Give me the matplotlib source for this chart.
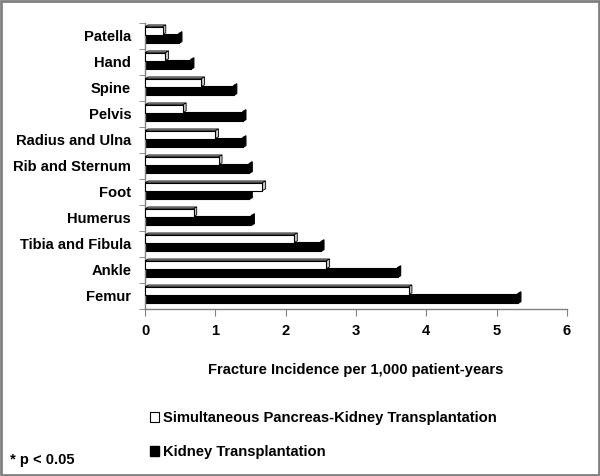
import matplotlib.pyplot as plt
from matplotlib.patches import Polygon, Rectangle, Patch

plt.rcParams['font.family'] = ['Liberation Sans', 'DejaVu Sans']
plt.rcParams['font.weight'] = 'bold'

# Data (bottom to top)
sites = ["Femur", "Ankle", "Tibia and Fibula", "Humerus", "Foot",
         "Rib and Sternum", "Radius and Ulna", "Pelvis", "Spine", "Hand", "Patella"]
spk = [3.75, 2.58, 2.12, 0.69, 1.67, 1.05, 1.00, 0.54, 0.80, 0.29, 0.25]
kidney = [5.30, 3.59, 2.50, 1.51, 1.48, 1.48, 1.39, 1.39, 1.26, 0.65, 0.48]

fs = 10.6
fig = plt.figure(figsize=(6, 4.76), dpi=100)
ax = fig.add_axes([0.2417, 0.351, 0.7033, 0.601])

pos = list(range(len(sites)))
dx, dy = 0.045, 0.07  # fake 3D depth

# kidney bars (black)
y_k = [p - 0.1 for p in pos]
ax.barh(y_k, kidney, height=0.38, color="black", edgecolor="black", lw=0.8, zorder=2)
for y, v in zip(y_k, kidney):
    ax.add_patch(Polygon([(v, y - 0.19), (v + dx, y - 0.19 + dy), (v + dx, y + 0.19 + dy), (v, y + 0.19)],
                         closed=True, fc="black", ec="black", lw=0.8, zorder=2))

# SPK bars (white with grey depth)
y_s = [p + 0.2 for p in pos]
h = 0.3
for y, v in zip(y_s, spk):
    top = y + h / 2
    ax.add_patch(Polygon([(0, top), (dx, top + dy), (v + dx, top + dy), (v, top)],
                         closed=True, fc="#a8a8a8", ec="black", lw=0.6, zorder=3))
    ax.add_patch(Polygon([(v, top), (v + dx, top + dy), (v + dx, y - h / 2 + dy), (v, y - h / 2)],
                         closed=True, fc="#c8c8c8", ec="black", lw=0.6, zorder=3))
ax.barh(y_s, spk, height=h, color="white", edgecolor="black", lw=0.8, zorder=4)

ax.set_xlim(0, 6)
ax.set_ylim(-0.5, len(sites) - 0.5)
ax.set_xticks(range(7))
ax.set_yticks(pos)
ax.set_yticklabels(sites, fontsize=fs, fontweight="bold")
ax.set_yticks([p - 0.5 for p in pos] + [len(sites) - 0.5], minor=True)
ax.tick_params(axis="y", which="major", length=0, pad=10)
ax.tick_params(axis="y", which="minor", length=4, color="#808080")
ax.tick_params(axis="x", length=5, color="#808080", labelsize=fs, pad=6)
for lab in ax.get_xticklabels():
    lab.set_fontweight("bold")

for s in ["top", "right"]:
    ax.spines[s].set_visible(False)
for s in ["left", "bottom"]:
    ax.spines[s].set_color("#808080")
    ax.spines[s].set_linewidth(1)

fig.text(356 / 600, 1 - 370 / 476, "Fracture Incidence per 1,000 patient-years",
         ha="center", va="center", fontsize=fs, fontweight="bold")

handles = [Patch(fc="white", ec="black", lw=0.8), Patch(fc="black", ec="black")]
labels = ["Simultaneous Pancreas-Kidney Transplantation", "Kidney Transplantation"]
fig.legend(handles, labels, loc="upper left", bbox_to_anchor=(0.228, 1 - 398 / 476),
           frameon=False, handlelength=0.6, handleheight=0.6,
           handletextpad=0.25, labelspacing=1.35, prop={"weight": "bold", "size": fs})

fig.text(10 / 600, 1 - 460 / 476, "* p < 0.05", ha="left", va="center",
         fontsize=fs, fontweight="bold")

fig.patches.append(Rectangle((0.002, 0.002), 0.996, 0.996, transform=fig.transFigure,
                             fill=False, ec="#808080", lw=2))

fig.savefig("out.png", dpi=100, facecolor="white")
